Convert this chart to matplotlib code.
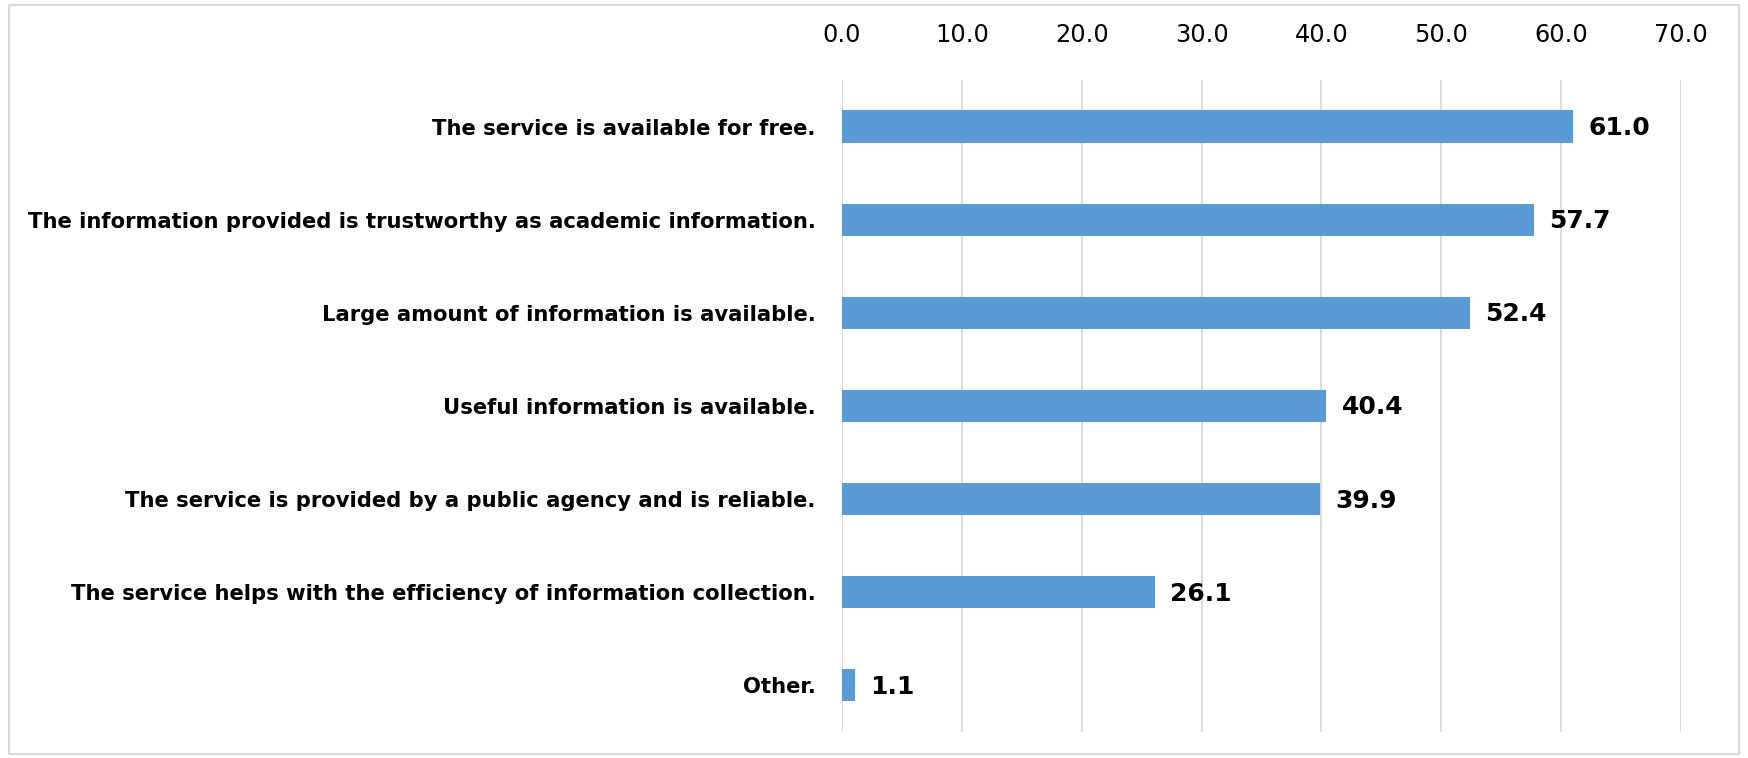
import matplotlib.pyplot as plt
from matplotlib.patches import Rectangle

# Survey answers (percent), top to bottom
reasons = [
    'The service is available for free.',
    'The information provided is trustworthy as academic information.',
    'Large amount of information is available.',
    'Useful information is available.',
    'The service is provided by a public agency and is reliable.',
    'The service helps with the efficiency of information collection.',
    'Other.',
]
percent = [61.0, 57.7, 52.4, 40.4, 39.9, 26.1, 1.1]
x_ticks = [0, 10, 20, 30, 40, 50, 60, 70]

bar_color = '#5B9BD5'
grid_color = '#D9D9D9'

fig = plt.figure(figsize=(17.48, 7.58), dpi=100)
ax = fig.add_axes([0.4817, 0.0343, 0.48, 0.8602])

pos = list(range(len(reasons)))
ax.barh(pos, percent, height=0.345, color=bar_color, zorder=3)

for y, v in zip(pos, percent):
    ax.annotate(f'{v:.1f}', xy=(v, y), xytext=(11, -1), textcoords='offset points',
                va='center', ha='left', fontsize=18, fontweight='bold', color='black')

ax.set_ylim(len(reasons) - 0.5, -0.5)
ax.set_xlim(0, 70)
ax.set_xticks(x_ticks)
ax.set_xticklabels([f'{t:.1f}' for t in x_ticks])
ax.xaxis.tick_top()
ax.tick_params(axis='x', length=0, pad=24, labelsize=17.3)
ax.set_yticks(pos)
ax.set_yticklabels(reasons, fontsize=15.2, fontweight='bold')
ax.tick_params(axis='y', length=0, pad=19)

ax.grid(axis='x', color=grid_color, linewidth=1.3, zorder=0)
for s in ax.spines.values():
    s.set_visible(False)

# outer frame of the chart area
fig.patches.append(Rectangle((0.005, 0.005), 0.99, 0.988, transform=fig.transFigure,
                             fill=False, edgecolor=grid_color, linewidth=1.5))

plt.savefig('out.png', dpi=100)
